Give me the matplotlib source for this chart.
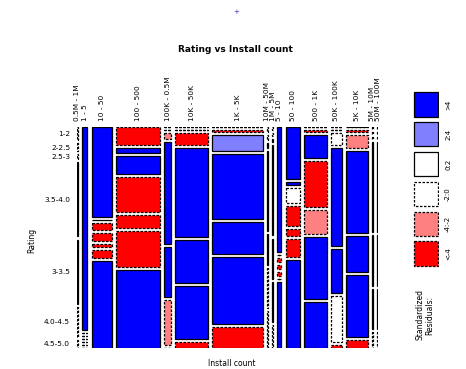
import numpy as np
import matplotlib
matplotlib.use("Agg")
import matplotlib.pyplot as plt
from matplotlib.patches import Rectangle

# install bins (columns of the mosaic), in plotting order
installs = ["0.5M - 1M", "1 - 5", "10 - 50", "100 - 500", "100K - 0.5M", "10K - 50K",
            "1K - 5K", "10M - 50M", "1M - 5M", "5 - 10", "50 - 100", "500 - 1K",
            "50K - 100K", "5K - 10K", "5M - 10M", "50M - 100M"]

# rating bins (rows of the mosaic), top to bottom
ratings = ["1-2", "2-2.5", "2.5-3", "3.5-4.0", "3-3.5", "4.0-4.5", "4.5-5.0"]

# number of apps in each install bin (column widths)
install_totals = [40, 220, 900, 1900, 310, 1440, 2200, 40, 40, 180, 630, 990, 450, 950, 40, 40]

# share of each rating bin inside an install bin (column heights)
rating_shares = [
    [13, 8, 5, 74, 64, 30, 8],
    [202, 0, 0, 0, 0, 0, 0],
    [85, 0, 6, 8, 3, 7, 82],
    [17, 5, 18, 33, 13, 35, 75],
    [0, 0, 6, 96, 47, 42, 0],
    [0, 0, 11, 85, 41, 50, 6],
    [0, 2, 15, 63, 31, 65, 20],
    [5, 5, 5, 80, 30, 40, 37],
    [3, 3, 3, 90, 40, 40, 23],
    [118, 0, 4, 4, 4, 0, 62],
    [51, 3, 15, 20, 7, 17, 87],
    [0, 2, 22, 45, 23, 60, 45],
    [0, 0, 12, 95, 43, 45, 3],
    [0, 2, 13, 80, 35, 60, 8],
    [2, 2, 2, 90, 50, 40, 16],
    [2, 2, 2, 90, 50, 40, 16],
]

# standardized (Pearson) residuals of each cell, estimated from the shading
residuals = [
    [-1, -1, -1, 1, 1, -1, -1],
    [8, -1, -1, -1, -1, -1, -1],
    [6, 1, -5, -5, -5, -5, 6],
    [-5, 5, 5, -5, -5, -5, 8],
    [-1, -1, -3, 5, 5, -3, -1],
    [-5, -5, -5, 6, 5, 5, -5],
    [-5, -5, 3, 8, 6, 7, -6],
    [-1, -1, 1, 1, 1, -1, -1],
    [-1, -1, 1, 1, 1, 1, -1],
    [5, -1, -5, -5, -5, -1, 5],
    [6, 5, -1, -5, -5, -5, 7],
    [-5, -5, 5, -5, -3, 6, 5],
    [-1, -1, -1, 6, 5, -1, -5],
    [-5, -5, -3, 7, 5, 6, -5],
    [-1, -1, -1, 1, 1, 1, -1],
    [-1, -1, -1, 1, 1, 1, -1],
]

legend_labels = [">4", "2:4", "0:2", "-2:0", "-4:-2", "<-4"]
legend_values = [5, 3, 1, -1, -3, -5]

DASH = (0, (2.0, 1.2))


def shade(r):
    # Friendly shading: blue for positive, red for negative residuals
    if r > 4:
        return "#0000ff", "solid"
    if r > 2:
        return "#8080ff", "solid"
    if r > 0:
        return "white", "solid"
    if r > -2:
        return "white", DASH
    if r > -4:
        return "#ff8080", DASH
    return "#ff0000", DASH


fig = plt.figure(figsize=(4.66, 3.69), dpi=100)

W, H = 466.0, 369.0
ax = fig.add_axes([77 / W, (H - 348) / H, 301 / W, 221 / H])

gap_x = sum(install_totals) * 4.3 / 236.0
gap_y = 3.0 / 202.0

x = 0.0
centers = []
first_col_centers = None
for i, total in enumerate(install_totals):
    shares = np.array(rating_shares[i], dtype=float)
    shares = shares / shares.sum()
    y = 0.0
    col_centers = []
    for j, s in enumerate(shares):
        fc, ls = shade(residuals[i][j])
        ax.add_patch(Rectangle((x, y), total, s, facecolor=fc, edgecolor="black",
                               linewidth=0.9, linestyle=ls))
        col_centers.append(y + s / 2)
        y += s + gap_y
    if i == 0:
        first_col_centers = col_centers
    centers.append(x + total / 2)
    x += total + gap_x

ax.set_xlim(0, x - gap_x)
ax.set_ylim(1 + 6 * gap_y, 0)
for sp in ax.spines.values():
    sp.set_visible(False)

ax.xaxis.tick_top()
ax.set_xticks(centers)
ax.set_xticklabels(installs, rotation=90, fontsize=5.3)
ax.tick_params(axis="x", length=0, pad=4)
ax.set_yticks(first_col_centers)
ax.set_yticklabels(ratings, fontsize=5.3)
ax.tick_params(axis="y", length=0, pad=5)

fig.text(235 / W, 1 - 50 / H, "Rating vs Install count", ha="center", va="center",
         fontsize=6.5, fontweight="bold")
fig.text(232 / W, 1 - 364 / H, "Install count", ha="center", va="center", fontsize=5.5)
fig.text(32 / W, 1 - 240 / H, "Rating", ha="center", va="center", fontsize=5.5, rotation=90)
fig.text(236 / W, 1 - 12 / H, "+", ha="center", va="center", fontsize=5, color="#3030c0")

# legend for residual shading
lax = fig.add_axes([413 / W, (H - 270) / H, 26 / W, 179 / H])
lax.set_xlim(0, 1)
lax.set_ylim(6, 0)
lax.axis("off")
for k, (lab, v) in enumerate(zip(legend_labels, legend_values)):
    fc, ls = shade(v)
    lax.add_patch(Rectangle((0.02, k + 0.04), 0.96, 0.82, facecolor=fc, edgecolor="black",
                            linewidth=0.9, linestyle=ls))
    lax.text(1.35, k + 0.45, lab, rotation=90, ha="center", va="center", fontsize=5,
             clip_on=False)

fig.text(425 / W, 1 - 315 / H, "Standardized\nResiduals:", rotation=90, ha="center",
         va="center", fontsize=5.5)

fig.savefig("out.png", dpi=100)
